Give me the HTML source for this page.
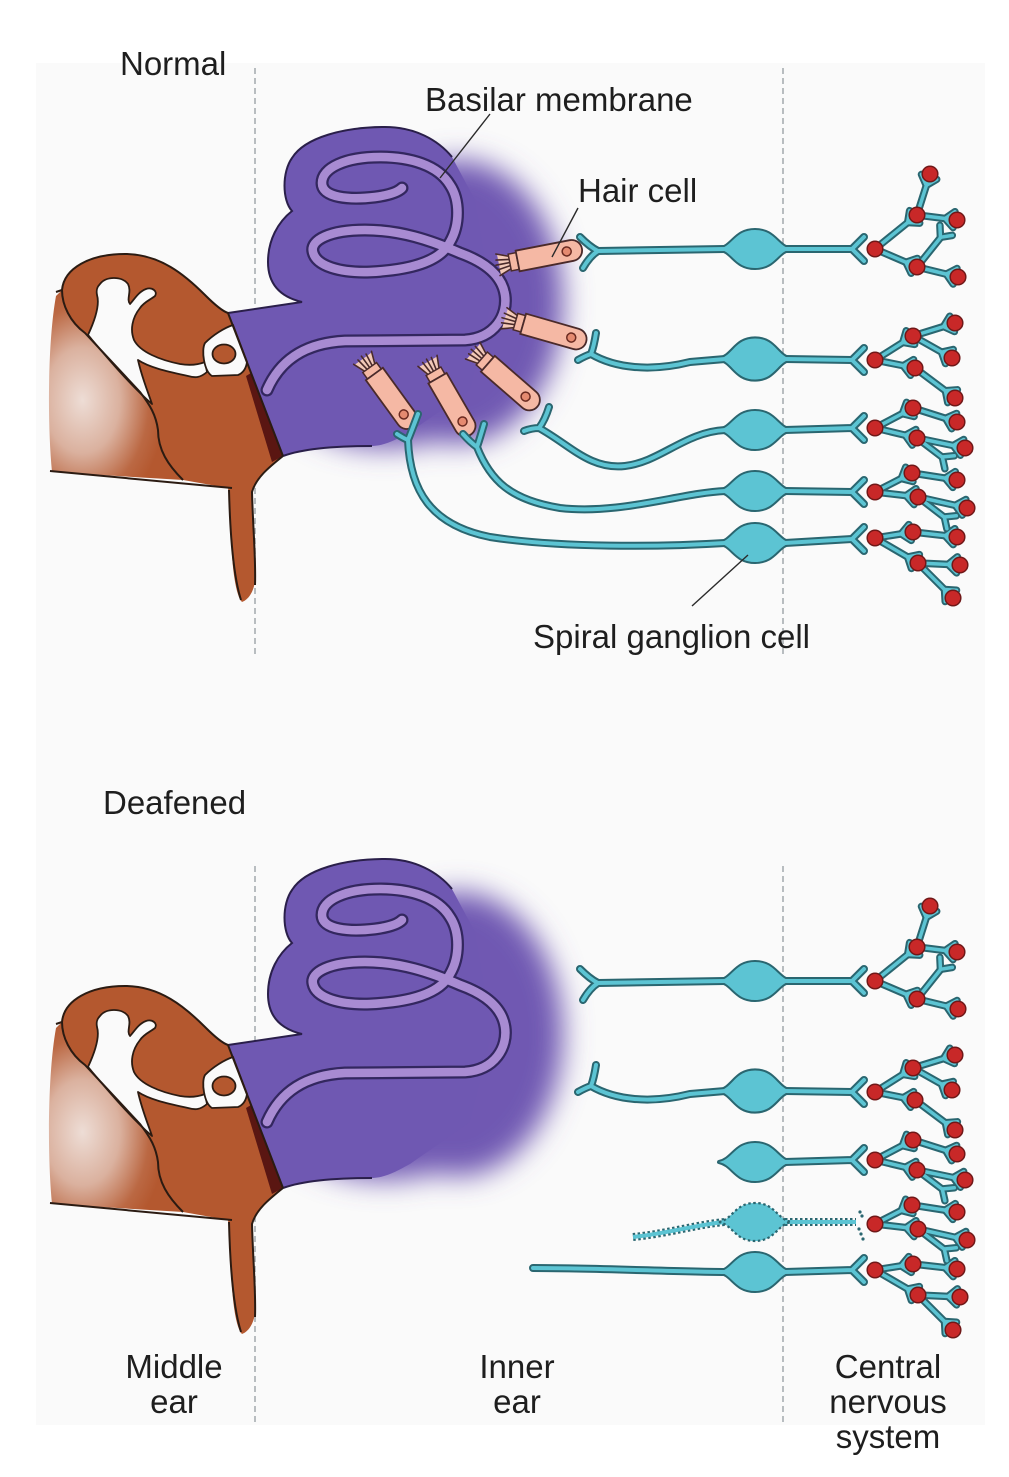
<!DOCTYPE html>
<html>
<head>
<meta charset="utf-8">
<style>
  html,body{margin:0;padding:0;background:#ffffff;}
  svg{display:block;}
  text{font-family:"Liberation Sans", Arial, sans-serif; font-size:33px; fill:#1e1e1e;}
</style>
</head>
<body>
<svg width="1009" height="1477" viewBox="0 0 1009 1477" xmlns="http://www.w3.org/2000/svg" xmlns:xlink="http://www.w3.org/1999/xlink">
<defs>
  <filter id="blur" x="-50%" y="-50%" width="200%" height="200%">
    <feGaussianBlur stdDeviation="14"/>
  </filter>
  <radialGradient id="brg" cx="0.25" cy="0.58" r="0.62">
    <stop offset="0" stop-color="#b4582f" stop-opacity="0.18"/>
    <stop offset="0.45" stop-color="#b4582f" stop-opacity="0.45"/>
    <stop offset="0.8" stop-color="#b4582f" stop-opacity="0.9"/>
    <stop offset="1" stop-color="#b4582f" stop-opacity="1"/>
  </radialGradient>

  <path id="cup" d="M-12,0 L-3,-8 M-12,0 L-3,8"/>
  <path id="soma" d="M-36,0 C-22,-3 -20,-19 0,-19 C20,-19 22,-3 36,0 C22,3 20,19 0,19 C-20,19 -22,3 -36,0 Z"/>

  <g id="hc">
    <path d="M2,-11 L14,-7 L14,7 L2,11 Z" fill="#f3c9b8"/>
    <path d="M14,-6 L1,-11 M14,-3 L0,-5 M14,0 L-1,0 M14,3 L0,5 M14,6 L1,11" stroke="#4a2a2a" stroke-width="1.6" fill="none" stroke-linecap="round"/>
    <rect x="13" y="-8.5" width="8" height="17" fill="#f5b8a4" stroke="#4a2a2a" stroke-width="1.5"/>
    <path d="M21,-10.5 L76,-10.5 A10.5,10.5 0 0 1 76,10.5 L21,10.5 Z" fill="#f5b8a4" stroke="#4a2a2a" stroke-width="1.8"/>
    <circle cx="71" cy="0" r="4.5" fill="#e58a70" stroke="#6a2a20" stroke-width="1.5"/>
  </g>

  <g id="ear">
    <g filter="url(#blur)" fill="#6f58b2">
      <ellipse cx="458" cy="302" rx="105" ry="142"/>
      <ellipse cx="385" cy="398" rx="95" ry="50"/>
    </g>
    <path fill="#6f58b2" d="M 228,313 L 302,302 C 285,298 268,288 268,262 C 268,240 278,222 292,211 C 282,200 282,172 292,158 C 305,137 345,127 385,127 C 415,127 438,140 452,157 L 475,200 L 492,300 L 470,390 L 410,432 C 395,440 385,446 370,446 C 340,446 305,448 283,456 Z"/>
    <path fill="none" stroke="#2a1f4a" stroke-width="2" d="M 228,313 L 302,302 C 285,298 268,288 268,262 C 268,240 278,222 292,211 C 282,200 282,172 292,158 C 305,137 345,127 385,127 C 415,127 438,140 452,157"/>
    <path fill="none" stroke="#2a1f4a" stroke-width="2" d="M 283,456 C 305,448 340,446 372,446"/>
    <path fill="none" stroke="#33275f" stroke-width="13" stroke-linecap="round" stroke-linejoin="round" d="M 267,390 C 280,360 305,343 345,341 L 465,340 C 495,338 508,315 505,295 C 502,275 485,262 460,253 C 430,240 400,230 365,230 C 330,230 310,240 313,252 C 316,266 340,273 370,272 C 410,270 440,262 450,242 C 460,225 460,200 450,185 C 438,165 410,157 380,157 C 345,157 322,168 322,183 C 322,198 350,200 375,197 C 390,195 398,192 402,188"/>
    <path fill="none" stroke="#a88bd2" stroke-width="8.5" stroke-linecap="round" stroke-linejoin="round" d="M 267,390 C 280,360 305,343 345,341 L 465,340 C 495,338 508,315 505,295 C 502,275 485,262 460,253 C 430,240 400,230 365,230 C 330,230 310,240 313,252 C 316,266 340,273 370,272 C 410,270 440,262 450,242 C 460,225 460,200 450,185 C 438,165 410,157 380,157 C 345,157 322,168 322,183 C 322,198 350,200 375,197 C 390,195 398,192 402,188"/>

    <path fill="url(#brg)" d="M 62,290 C 62,305 70,322 85,333 L 140,392 C 150,405 156,415 158,430 C 158,450 168,465 183,480 L 52,472 C 47,420 48,340 56,296 Z"/>
    <path fill="#b4582f" d="M 62,290 C 64,268 90,254 125,254 C 160,254 185,275 205,295 C 215,305 222,311 228,313 L 283,456 C 268,468 256,478 252,492 C 253,530 256,560 255,580 C 254,592 248,600 242,602 C 236,596 232,570 231,535 C 230,510 229,498 228,488 L 183,480 C 168,465 158,450 158,430 C 156,415 150,405 140,392 L 85,333 C 70,322 62,305 62,290 Z"/>
    <path fill="#5a1612" d="M 246,376 L 251,373 L 283,456 L 272,462 Z"/>
    <path fill="#fafafa" stroke="#2b1b12" stroke-width="1.8" stroke-linejoin="round" d="M 100,284 C 106,276 122,276 128,284 C 132,292 126,299 130,304 C 134,300 138,292 146,289 C 152,287 158,291 155,296 C 150,300 144,302 140,308 C 132,318 130,330 134,340 C 140,352 160,360 180,364 C 192,366 200,364 205,362 L 207,372 C 200,378 195,378 188,376 C 170,372 150,368 138,360 C 142,378 148,392 152,404 C 130,385 105,355 88,335 C 95,320 100,305 97,295 C 96,290 97,287 100,284 Z"/>
    <path fill="#fafafa" stroke="#2b1b12" stroke-width="1.8" d="M 205,343 C 213,335 224,328 233,325 L 247,362 C 246,369 243,373 238,375 L 212,376 C 204,371 201,350 205,343 Z"/>
    <ellipse cx="224" cy="354" rx="11.5" ry="9.5" fill="#b4582f" stroke="#2b1b12" stroke-width="1.8"/>
    <g fill="none" stroke="#2b1b12" stroke-width="2">
      <path d="M 56,292 L 62,290 C 64,268 90,254 125,254 C 160,254 185,275 205,295 C 215,305 222,311 228,313 L 283,456"/>
      <path d="M 62,290 C 62,305 70,322 85,333 L 140,392 C 150,405 156,415 158,430 C 158,450 168,465 183,480"/>
      <path d="M 50,471 L 232,488"/>
      <path d="M 283,456 C 268,468 256,478 252,492 C 253,530 256,560 255,585"/>
      <path d="M 229,490 C 230,530 233,575 241,600"/>
    </g>
  </g>

  <g id="ntop">
    <path d="M580,237 Q590,247 598,251 M583,268 Q590,256 598,251 M598,251 L725,249 M785,249 L852,249 M852,249 Q857,244 864,237 M852,249 Q857,254 864,261"/>
    <path d="M596,333 Q594,346 591,354 M578,360 Q585,356 591,354 M591,354 C615,368 650,372 690,362 L725,359 M785,359 L852,360 M852,360 Q857,355 864,348 M852,360 Q857,365 864,372"/>
    <path d="M549,407 Q545,420 539,428 M524,431 Q532,428 539,428 M539,428 C570,445 590,470 625,466 C660,462 685,432 725,430 M785,430 L852,428 M852,428 Q857,423 864,416 M852,428 Q857,433 864,440"/>
    <path d="M484,424 Q480,438 477,447 M463,434 Q470,442 477,447 M477,447 C490,480 510,500 560,508 C620,515 680,493 725,491 M785,491 L852,492 M852,492 Q857,487 864,480 M852,492 Q857,497 864,504"/>
    <path d="M418,414 Q412,430 408,440 M397,434 Q403,438 408,440 M408,440 C410,490 430,525 490,537 C560,548 660,547 725,543 M785,543 L852,539 M852,539 Q857,534 864,527 M852,539 Q857,544 864,551"/>
  </g>
  <g id="somaT">
    <use xlink:href="#soma" href="#soma" transform="translate(755,249)"/>
    <use xlink:href="#soma" href="#soma" transform="translate(755,359) scale(1,1.08)"/>
    <use xlink:href="#soma" href="#soma" transform="translate(755,430)"/>
    <use xlink:href="#soma" href="#soma" transform="translate(755,491)"/>
    <use xlink:href="#soma" href="#soma" transform="translate(755,543)"/>
  </g>

  <g id="nbot">
    <path d="M580,969 Q590,979 598,983 M583,1000 Q590,988 598,983 M598,983 L725,981 M785,981 L852,981 M852,981 Q857,976 864,969 M852,981 Q857,986 864,993"/>
    <path d="M596,1065 Q594,1078 591,1086 M578,1092 Q585,1088 591,1086 M591,1086 C615,1100 650,1104 690,1094 L725,1091 M785,1091 L852,1092 M852,1092 Q857,1087 864,1080 M852,1092 Q857,1097 864,1104"/>
    <path d="M785,1162 L852,1160 M852,1160 Q857,1155 864,1148 M852,1160 Q857,1165 864,1172"/>
    <path d="M533,1268 C600,1268 680,1272 725,1272 M785,1272 L852,1270 M852,1270 Q857,1265 864,1258 M852,1270 Q857,1275 864,1282"/>
  </g>
  <g id="somaB">
    <use xlink:href="#soma" href="#soma" transform="translate(755,981)"/>
    <use xlink:href="#soma" href="#soma" transform="translate(755,1091) scale(1,1.08)"/>
    <use xlink:href="#soma" href="#soma" transform="translate(755,1162)"/>
    <use xlink:href="#soma" href="#soma" transform="translate(755,1272)"/>
  </g>

  <g id="treeT">
    <path d="M875,249 L917,215 L930,174 M917,215 L957,220 M875,249 L917,267 L958,277 M917,267 L941,237"/>
    <use xlink:href="#cup" href="#cup" transform="translate(917,215) rotate(-39)"/>
    <use xlink:href="#cup" href="#cup" transform="translate(930,174) rotate(-72)"/>
    <use xlink:href="#cup" href="#cup" transform="translate(957,220) rotate(7)"/>
    <use xlink:href="#cup" href="#cup" transform="translate(917,267) rotate(23)"/>
    <use xlink:href="#cup" href="#cup" transform="translate(958,277) rotate(14)"/>
    <use xlink:href="#cup" href="#cup" transform="translate(948,228) rotate(-51)"/>

    <path d="M875,360 L913,336 L955,323 M913,336 L952,358 M875,360 L915,368 L955,398"/>
    <use xlink:href="#cup" href="#cup" transform="translate(913,336) rotate(-32)"/>
    <use xlink:href="#cup" href="#cup" transform="translate(955,323) rotate(-17)"/>
    <use xlink:href="#cup" href="#cup" transform="translate(952,358) rotate(29)"/>
    <use xlink:href="#cup" href="#cup" transform="translate(915,368) rotate(11)"/>
    <use xlink:href="#cup" href="#cup" transform="translate(955,398) rotate(37)"/>

    <path d="M875,428 L913,408 L957,422 M875,428 L917,438 L965,448 M917,438 L942,457"/>
    <use xlink:href="#cup" href="#cup" transform="translate(913,408) rotate(-28)"/>
    <use xlink:href="#cup" href="#cup" transform="translate(957,422) rotate(18)"/>
    <use xlink:href="#cup" href="#cup" transform="translate(917,438) rotate(13)"/>
    <use xlink:href="#cup" href="#cup" transform="translate(965,448) rotate(12)"/>
    <use xlink:href="#cup" href="#cup" transform="translate(952,464) rotate(36)"/>

    <path d="M875,492 L912,473 L957,480 M875,492 L918,497 L967,508 M918,497 L944,517"/>
    <use xlink:href="#cup" href="#cup" transform="translate(912,473) rotate(-27)"/>
    <use xlink:href="#cup" href="#cup" transform="translate(957,480) rotate(9)"/>
    <use xlink:href="#cup" href="#cup" transform="translate(918,497) rotate(7)"/>
    <use xlink:href="#cup" href="#cup" transform="translate(967,508) rotate(13)"/>
    <use xlink:href="#cup" href="#cup" transform="translate(954,524) rotate(36)"/>

    <path d="M875,538 L913,532 L957,537 M875,538 L918,563 L960,565 M918,563 L953,598"/>
    <use xlink:href="#cup" href="#cup" transform="translate(913,532) rotate(-9)"/>
    <use xlink:href="#cup" href="#cup" transform="translate(957,537) rotate(6)"/>
    <use xlink:href="#cup" href="#cup" transform="translate(918,563) rotate(30)"/>
    <use xlink:href="#cup" href="#cup" transform="translate(960,565) rotate(3)"/>
    <use xlink:href="#cup" href="#cup" transform="translate(953,598) rotate(45)"/>
  </g>

  <g id="dots" fill="#c82828" stroke="#701818" stroke-width="1.5">
    <circle cx="930" cy="174" r="7.8"/><circle cx="917" cy="215" r="7.8"/><circle cx="957" cy="220" r="7.8"/>
    <circle cx="875" cy="249" r="7.8"/><circle cx="917" cy="267" r="7.8"/><circle cx="958" cy="277" r="7.8"/>
    <circle cx="955" cy="323" r="7.8"/><circle cx="913" cy="336" r="7.8"/><circle cx="875" cy="360" r="7.8"/>
    <circle cx="952" cy="358" r="7.8"/><circle cx="915" cy="368" r="7.8"/><circle cx="955" cy="398" r="7.8"/>
    <circle cx="913" cy="408" r="7.8"/><circle cx="957" cy="422" r="7.8"/><circle cx="875" cy="428" r="7.8"/>
    <circle cx="917" cy="438" r="7.8"/><circle cx="965" cy="448" r="7.8"/>
    <circle cx="912" cy="473" r="7.8"/><circle cx="957" cy="480" r="7.8"/><circle cx="875" cy="492" r="7.8"/>
    <circle cx="918" cy="497" r="7.8"/><circle cx="967" cy="508" r="7.8"/>
    <circle cx="875" cy="538" r="7.8"/><circle cx="913" cy="532" r="7.8"/><circle cx="957" cy="537" r="7.8"/>
    <circle cx="918" cy="563" r="7.8"/><circle cx="960" cy="565" r="7.8"/><circle cx="953" cy="598" r="7.8"/>
  </g>
</defs>

<rect x="36" y="63" width="949" height="1362" fill="#fafafa"/>

<g stroke="#a8aeb2" stroke-width="1.6" stroke-dasharray="6 4">
  <line x1="255" y1="68" x2="255" y2="658"/>
  <line x1="783" y1="68" x2="783" y2="658"/>
  <line x1="255" y1="866" x2="255" y2="1425"/>
  <line x1="783" y1="866" x2="783" y2="1425"/>
</g>

<!-- TOP PANEL -->
<use xlink:href="#ear" href="#ear"/>

<use xlink:href="#hc" href="#hc" transform="translate(497,265) rotate(-11)"/>
<use xlink:href="#hc" href="#hc" transform="translate(503,318) rotate(16)"/>
<use xlink:href="#hc" href="#hc" transform="translate(472,350) rotate(41)"/>
<use xlink:href="#hc" href="#hc" transform="translate(427,360) rotate(60)"/>
<use xlink:href="#hc" href="#hc" transform="translate(362,357) rotate(54)"/>

<use xlink:href="#ntop" href="#ntop" fill="none" stroke="#2a6670" stroke-width="8" stroke-linecap="round" stroke-linejoin="round"/>
<use xlink:href="#treeT" href="#treeT" fill="none" stroke="#2a6670" stroke-width="7.5" stroke-linecap="round" stroke-linejoin="round"/>
<use xlink:href="#somaT" href="#somaT" fill="#2a6670" stroke="#2a6670" stroke-width="4" stroke-linejoin="round"/>
<use xlink:href="#ntop" href="#ntop" fill="none" stroke="#5cc4d3" stroke-width="4" stroke-linecap="round" stroke-linejoin="round"/>
<use xlink:href="#treeT" href="#treeT" fill="none" stroke="#5cc4d3" stroke-width="3.5" stroke-linecap="round" stroke-linejoin="round"/>
<use xlink:href="#somaT" href="#somaT" fill="#5cc4d3" stroke="none"/>
<use xlink:href="#dots" href="#dots"/>

<text x="120" y="75">Normal</text>
<text x="425" y="111">Basilar membrane</text>
<text x="578" y="202">Hair cell</text>
<text x="533" y="648">Spiral ganglion cell</text>
<g stroke="#2a2a2a" stroke-width="1.4">
  <line x1="490" y1="114" x2="440" y2="178"/>
  <line x1="578" y1="208" x2="552" y2="257"/>
  <line x1="748" y1="555" x2="692" y2="606"/>
</g>

<!-- BOTTOM PANEL -->
<use xlink:href="#ear" href="#ear" transform="translate(0,732)"/>

<path d="M 633,1237 C 665,1234 700,1224 725,1222 M 785,1222 L 856,1222" fill="none" stroke="#2a6670" stroke-width="8" stroke-dasharray="2.5 2.5"/>
<path d="M 633,1237 C 665,1234 700,1224 725,1222 M 785,1222 L 856,1222" fill="none" stroke="#5cc4d3" stroke-width="4"/>
<use xlink:href="#soma" href="#soma" transform="translate(755,1222)" fill="#5cc4d3" stroke="#2a6670" stroke-width="2.2" stroke-dasharray="2.5 2.5"/>
<g fill="#2a6670">
  <circle cx="860" cy="1212" r="1.6"/><circle cx="862" cy="1216" r="1.6"/>
  <circle cx="859" cy="1229" r="1.6"/><circle cx="861" cy="1234" r="1.6"/><circle cx="863" cy="1239" r="1.6"/>
</g>

<use xlink:href="#nbot" href="#nbot" fill="none" stroke="#2a6670" stroke-width="8" stroke-linecap="round" stroke-linejoin="round"/>
<use xlink:href="#treeT" href="#treeT" transform="translate(0,732)" fill="none" stroke="#2a6670" stroke-width="7.5" stroke-linecap="round" stroke-linejoin="round"/>
<use xlink:href="#somaB" href="#somaB" fill="#2a6670" stroke="#2a6670" stroke-width="4" stroke-linejoin="round"/>
<use xlink:href="#nbot" href="#nbot" fill="none" stroke="#5cc4d3" stroke-width="4" stroke-linecap="round" stroke-linejoin="round"/>
<use xlink:href="#treeT" href="#treeT" transform="translate(0,732)" fill="none" stroke="#5cc4d3" stroke-width="3.5" stroke-linecap="round" stroke-linejoin="round"/>
<use xlink:href="#somaB" href="#somaB" fill="#5cc4d3" stroke="none"/>
<use xlink:href="#dots" href="#dots" transform="translate(0,732)"/>

<text x="103" y="814">Deafened</text>
<g text-anchor="middle">
  <text x="174" y="1378">Middle</text>
  <text x="174" y="1413">ear</text>
  <text x="517" y="1378">Inner</text>
  <text x="517" y="1413">ear</text>
  <text x="888" y="1378">Central</text>
  <text x="888" y="1413">nervous</text>
  <text x="888" y="1448">system</text>
</g>
</svg>
</body>
</html>
